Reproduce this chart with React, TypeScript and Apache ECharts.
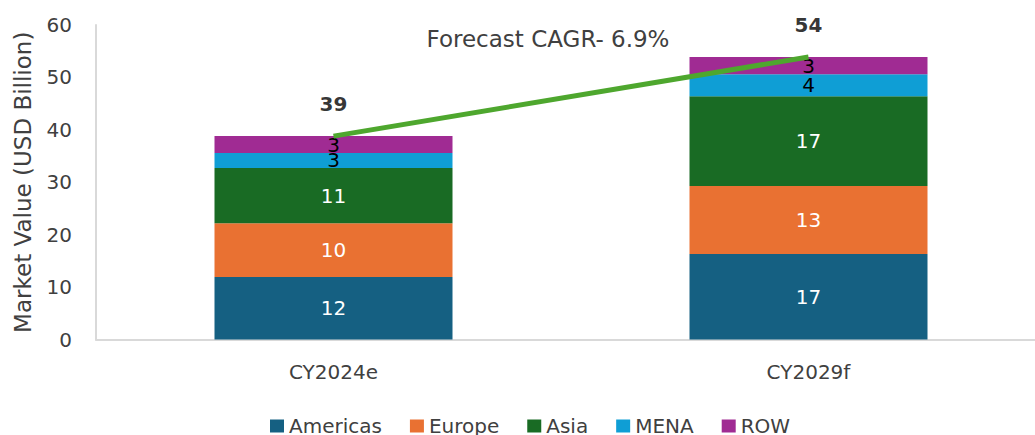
import React, { useEffect, useRef } from "react";
import * as echarts from "echarts";

const categories = ["CY2024e", "CY2029f"];
const americas = [11.9, 16.3];
const europe = [10.3, 13.0];
const asia = [10.5, 17.1];
const mena = [2.9, 4.2];
const row = [3.2, 3.3];
const totals = [38.8, 53.9];
const totalLabels = ["39", "54"];
const americasLabels = ["12", "17"];
const europeLabels = ["10", "13"];
const asiaLabels = ["11", "17"];
const menaLabels = ["3", "4"];
const rowLabels = ["3", "3"];
const cagrText = "Forecast CAGR- 6.9%";

const FONT = "DejaVu Sans";

export default function App() {
  const ref = useRef<HTMLDivElement>(null);
  useEffect(() => {
    if (!ref.current) return;
    const chart = echarts.init(ref.current, undefined, { renderer: "svg" });
    const mkBar = (name: string, data: number[], labels: string[], color: string, textColor: string) => ({
      name,
      type: "bar",
      stack: "total",
      barWidth: 238,
      data,
      itemStyle: { color },
      label: {
        show: true,
        position: "inside",
        color: textColor,
        fontFamily: FONT,
        fontSize: 20,
        formatter: (p: any) => labels[p.dataIndex],
      },
    });
    chart.setOption({
      animation: false,
      textStyle: { fontFamily: FONT },
      grid: { left: 96, top: 25, bottom: 95.5, right: 0, containLabel: false },
      legend: {
        data: ["Americas", "Europe", "Asia", "MENA", "ROW"],
        left: 265,
        top: 411,
        icon: "rect",
        itemWidth: 14,
        itemHeight: 13,
        itemGap: 28,
        textStyle: { fontFamily: FONT, fontSize: 20, color: "#404040" },
      },
      xAxis: {
        type: "category",
        data: categories,
        axisLine: { lineStyle: { color: "#d9d9d9", width: 2 } },
        axisTick: { show: false },
        axisLabel: { fontFamily: FONT, fontSize: 20, color: "#404040", margin: 22 },
      },
      yAxis: {
        type: "value",
        min: 0,
        max: 60,
        interval: 10,
        name: "Market Value (USD Billion)",
        nameLocation: "middle",
        nameRotate: 90,
        nameGap: 62,
        nameTextStyle: { fontFamily: FONT, fontSize: 23, color: "#404040" },
        axisLine: { show: true, lineStyle: { color: "#d9d9d9", width: 2 } },
        axisTick: { show: false },
        splitLine: { show: false },
        axisLabel: { fontFamily: FONT, fontSize: 20, color: "#404040", margin: 24 },
      },
      graphic: [
        {
          type: "text",
          x: 548,
          y: 39,
          style: {
            text: cagrText,
            fontFamily: FONT,
            fontSize: 23,
            fill: "#404040",
            align: "center",
            verticalAlign: "middle",
          },
        },
      ],
      series: [
        mkBar("Americas", americas, americasLabels, "#156082", "#ffffff"),
        mkBar("Europe", europe, europeLabels, "#E97132", "#ffffff"),
        mkBar("Asia", asia, asiaLabels, "#196B24", "#ffffff"),
        mkBar("MENA", mena, menaLabels, "#0F9ED5", "#000000"),
        mkBar("ROW", row, rowLabels, "#A02B93", "#000000"),
        {
          name: "CAGR",
          type: "line",
          data: totals,
          symbol: "none",
          lineStyle: { color: "#4EA72E", width: 5 },
          z: 5,
        },
        {
          name: "Total",
          type: "scatter",
          data: totals,
          symbolSize: 0,
          label: {
            show: true,
            position: "top",
            distance: 22,
            color: "#000000",
            fontWeight: "bold",
            fontFamily: FONT,
            fontSize: 20,
            formatter: (p: any) => totalLabels[p.dataIndex],
          },
        },
      ],
    });
    return () => chart.dispose();
  }, []);
  return (
    <div
      style={{
        position: "absolute",
        left: 0,
        top: 0,
        width: 1035,
        height: 435,
        overflow: "hidden",
        background: "#ffffff",
      }}
    >
      <div ref={ref} style={{ width: 1046, height: 435 }} />
    </div>
  );
}
